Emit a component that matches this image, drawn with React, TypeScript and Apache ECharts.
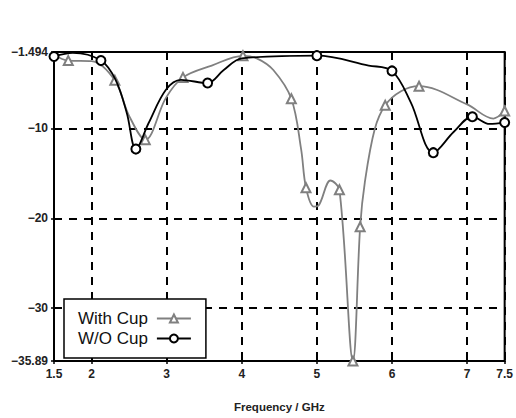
import React, { useEffect, useRef } from "react";
import * as echarts from "echarts";

// With Cup (gray, triangles)
const withCupFreq = [1.5, 1.69, 2.0, 2.31, 2.5, 2.715, 2.99, 3.217, 3.6, 4.016, 4.2, 4.42, 4.66, 4.79, 4.855, 4.96, 5.02, 5.18, 5.3, 5.48, 5.576, 5.64, 5.77, 5.91, 6.12, 6.36, 7.0, 7.35, 7.5];
const withCupVal = [-1.8, -2.45, -2.5, -4.65, -8.6, -11.25, -6.6, -4.32, -3.0, -1.92, -2.2, -3.5, -6.7, -12.3, -16.6, -18.7, -18.6, -15.8, -16.83, -35.89, -20.94, -15.9, -10.1, -7.43, -5.86, -5.3, -7.33, -8.9, -8.06];
const withCupMarked = [0, 1, 0, 1, 0, 1, 0, 1, 0, 1, 0, 0, 1, 0, 1, 0, 0, 0, 1, 1, 1, 0, 0, 1, 0, 1, 0, 0, 1];

// W/O Cup (black, circles)
const woCupFreq = [1.5, 1.75, 2.125, 2.32, 2.47, 2.59, 2.76, 2.99, 3.19, 3.545, 3.76, 4.0, 5.0, 5.69, 6.0, 6.25, 6.55, 6.82, 7.07, 7.3, 7.5];
const woCupVal = [-2.0, -1.6, -2.45, -4.6, -8.3, -12.3, -9.4, -5.7, -4.6, -4.95, -3.5, -2.2, -1.9, -3.0, -3.6, -7.1, -12.7, -10.4, -8.7, -9.5, -9.35];
const woCupMarked = [1, 0, 1, 0, 0, 1, 0, 0, 0, 1, 0, 0, 1, 0, 1, 0, 1, 0, 1, 0, 1];

const xTicks = [1.5, 2, 3, 4, 5, 6, 7, 7.5];
const yTicks = [-35.89, -30, -20, -10, -1.494];

const build = (f: number[], v: number[], m: number[]) =>
  f.map((x, i) => (m[i] ? { value: [x, v[i]] } : { value: [x, v[i]], symbol: "none" }));

export default function App() {
  const ref = useRef<HTMLDivElement>(null);
  useEffect(() => {
    const chart = echarts.init(ref.current!, null, { renderer: "svg" });
    const labelFont = { fontFamily: "Liberation Sans, Arial, sans-serif", fontSize: 12, fontWeight: "bold" as const, color: "#222" };
    chart.setOption({
      animation: false,
      backgroundColor: "#fff",
      grid: { left: 54, right: 4, top: 52, bottom: 53.5, show: true, borderColor: "#000", borderWidth: 2, backgroundColor: "transparent" },
      xAxis: {
        type: "value",
        min: 1.5,
        max: 7.5,
        name: "Frequency / GHz",
        nameLocation: "middle",
        nameGap: 40,
        nameTextStyle: { ...labelFont, fontSize: 11.5 },
        axisLine: { lineStyle: { color: "#000", width: 2 } },
        axisTick: { customValues: xTicks, length: 3, lineStyle: { color: "#000", width: 1.5 } },
        axisLabel: { customValues: xTicks, ...labelFont, margin: 7, formatter: (v: number) => String(v) },
        splitLine: { show: true, lineStyle: { color: "#000", width: 2, type: [8, 7] } },
      },
      yAxis: {
        type: "value",
        min: -35.89,
        max: -1.494,
        axisLine: { lineStyle: { color: "#000", width: 2 } },
        axisTick: { customValues: yTicks, length: 3, lineStyle: { color: "#000", width: 1.5 } },
        axisLabel: { customValues: yTicks, ...labelFont, margin: 6, formatter: (v: number) => String(v).replace("-", "\u2212") },
        splitLine: { show: true, lineStyle: { color: "#000", width: 2, type: [8, 7] } },
      },
      legend: {
        orient: "vertical",
        left: 64,
        top: 299,
        align: "right",
        padding: [11, 14, 11, 14],
        itemGap: 3,
        itemWidth: 34,
        itemHeight: 10,
        borderColor: "#000",
        borderWidth: 1.5,
        backgroundColor: "#fff",
        textStyle: { fontFamily: "Liberation Sans, Arial, sans-serif", fontSize: 17, color: "#111", padding: [0, 4, 0, 0] },
        data: ["With Cup", "W/O Cup"],
      },
      series: [
        {
          name: "With Cup",
          type: "line",
          smooth: 0.35,
          smoothMonotone: "none",
          symbol: "emptyTriangle",
          symbolSize: 9,
          z: 3,
          lineStyle: { color: "#808080", width: 1.8 },
          itemStyle: { color: "#808080", borderColor: "#808080", borderWidth: 1.5 },
          data: build(withCupFreq, withCupVal, withCupMarked),
        },
        {
          name: "W/O Cup",
          type: "line",
          smooth: 0.35,
          smoothMonotone: "none",
          symbol: "emptyCircle",
          symbolSize: 9,
          z: 4,
          lineStyle: { color: "#000", width: 1.8 },
          itemStyle: { color: "#000", borderColor: "#000", borderWidth: 1.5 },
          data: build(woCupFreq, woCupVal, woCupMarked),
        },
      ],
    });
    return () => chart.dispose();
  }, []);
  return <div ref={ref} style={{ position: "fixed", left: 0, top: 0, width: 516, height: 418 }} />;
}
